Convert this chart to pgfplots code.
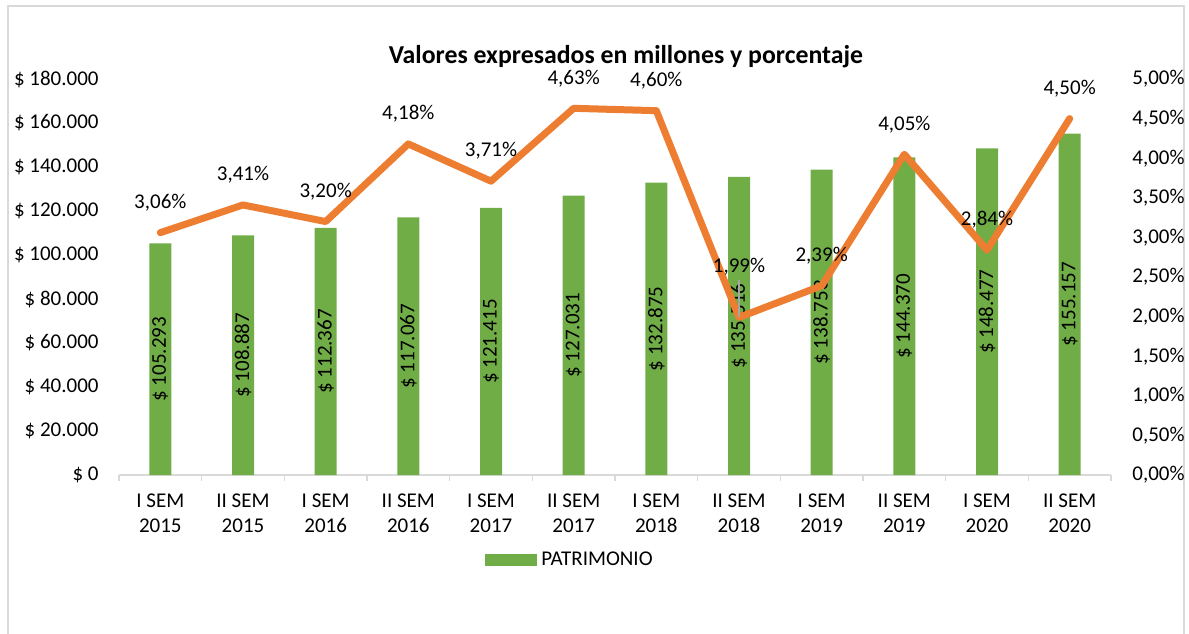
\documentclass[border=0pt]{standalone}
\usepackage{fontspec}
\setmainfont{Carlito}
\usepackage{pgfplots}
\pgfplotsset{compat=1.18}
\definecolor{barg}{HTML}{70AD47}
\definecolor{lineo}{HTML}{ED7D31}
\definecolor{axgray}{HTML}{D9D9D9}
\newcommand\lf{\fontsize{10.5}{12.5}\selectfont}
\tikzset{bl/.style={rotate=90, font=\lf, inner sep=0pt},
         pl/.style={font=\lf, inner sep=0pt, yshift=15pt}}
\begin{document}
\begin{tikzpicture}[x=0.5pt,y=0.5pt]
\useasboundingbox (0,0) rectangle (1189,633);
\draw[axgray, line width=0.7pt] (8,-5) -- (8,627) -- (1184,627) -- (1184,-5);
\node[font=\fontsize{12.9}{14}\selectfont\bfseries] at (626,576) {Valores expresados en millones y porcentaje};
\begin{axis}[
  at={(59.5pt,79pt)}, anchor=south west,
  scale only axis, width=496pt, height=198pt,
  xmin=-0.5, xmax=11.5, ymin=0, ymax=180000,
  clip=false,
  axis x line*=bottom, axis y line*=left,
  x axis line style={draw=axgray, line width=0.7pt, -},
  y axis line style={draw=none},
  tick align=outside,
  major tick length=0pt, minor tick length=3pt,
  x tick style={draw=axgray, line width=0.7pt},
  xtick={0,1,2,3,4,5,6,7,8,9,10,11},
  minor xtick={-0.5,0.5,1.5,2.5,3.5,4.5,5.5,6.5,7.5,8.5,9.5,10.5,11.5},
  xticklabels={{I SEM\\2015},{II SEM\\2015},{I SEM\\2016},{II SEM\\2016},{I SEM\\2017},{II SEM\\2017},{I SEM\\2018},{II SEM\\2018},{I SEM\\2019},{II SEM\\2019},{I SEM\\2020},{II SEM\\2020}},
  xticklabel style={align=center, anchor=north, inner sep=0pt, yshift=-9.25pt, font=\lf},
  scaled y ticks=false,
  ytick={0,20000,40000,60000,80000,100000,120000,140000,160000,180000},
  yticklabels={\$ 0,\$ 20.000,\$ 40.000,\$ 60.000,\$ 80.000,\$ 100.000,\$ 120.000,\$ 140.000,\$ 160.000,\$ 180.000},
  yticklabel style={anchor=east, inner sep=0pt, xshift=-10pt, font=\lf},
  legend style={at={(0.4556,-0.2146)}, anchor=center, draw=none, font=\lf, inner sep=0pt},
]
\addplot[ybar, bar width=11pt, fill=barg, draw=none,
  legend image code/.code={\fill[barg] (0pt,-3pt) rectangle (26pt,3pt);}]
  coordinates {(0,105293) (1,108887) (2,112367) (3,117067) (4,121415) (5,127031)
               (6,132875) (7,135516) (8,138753) (9,144370) (10,148477) (11,155157)};
\addlegendentry{PATRIMONIO}
\node[bl] at (axis cs:0,52646.5) {\$ 105.293};
\node[bl] at (axis cs:1,54443.5) {\$ 108.887};
\node[bl] at (axis cs:2,56183.5) {\$ 112.367};
\node[bl] at (axis cs:3,58533.5) {\$ 117.067};
\node[bl] at (axis cs:4,60707.5) {\$ 121.415};
\node[bl] at (axis cs:5,63515.5) {\$ 127.031};
\node[bl] at (axis cs:6,66437.5) {\$ 132.875};
\node[bl] at (axis cs:7,67758) {\$ 135.516};
\node[bl] at (axis cs:8,69376.5) {\$ 138.753};
\node[bl] at (axis cs:9,72185) {\$ 144.370};
\node[bl] at (axis cs:10,74238.5) {\$ 148.477};
\node[bl] at (axis cs:11,77578.5) {\$ 155.157};
\end{axis}
\begin{axis}[
  at={(59.5pt,79pt)}, anchor=south west,
  scale only axis, width=496pt, height=198pt,
  xmin=-0.5, xmax=11.5, ymin=0, ymax=5,
  clip=false,
  axis x line=none, axis y line*=right,
  y axis line style={draw=none},
  xtick=\empty,
  major tick length=0pt,
  ytick={0,0.5,1,1.5,2,2.5,3,3.5,4,4.5,5},
  yticklabels={{0,00\%},{0,50\%},{1,00\%},{1,50\%},{2,00\%},{2,50\%},{3,00\%},{3,50\%},{4,00\%},{4,50\%},{5,00\%}},
  yticklabel style={anchor=west, inner sep=0pt, xshift=10.5pt, font=\lf},
]
\addplot[lineo, line width=3.5pt, line cap=round, line join=round, mark=none]
  coordinates {(0,3.06) (1,3.41) (2,3.20) (3,4.18) (4,3.71) (5,4.63)
               (6,4.60) (7,1.99) (8,2.39) (9,4.05) (10,2.84) (11,4.50)};
\draw[gray!70, line width=0.6pt] (axis cs:7,1.99) -- ++(0pt,18.5pt);
\node[pl] at (axis cs:0,3.06) {3,06\%};
\node[pl] at (axis cs:1,3.41) {3,41\%};
\node[pl] at (axis cs:2,3.20) {3,20\%};
\node[pl] at (axis cs:3,4.18) {4,18\%};
\node[pl] at (axis cs:4,3.71) {3,71\%};
\node[pl] at (axis cs:5,4.63) {4,63\%};
\node[pl] at (axis cs:6,4.60) {4,60\%};
\node[pl, yshift=10.5pt] at (axis cs:7,1.99) {1,99\%};
\node[pl] at (axis cs:8,2.39) {2,39\%};
\node[pl] at (axis cs:9,4.05) {4,05\%};
\node[pl] at (axis cs:10,2.84) {2,84\%};
\node[pl] at (axis cs:11,4.50) {4,50\%};
\end{axis}
\end{tikzpicture}
\end{document}
